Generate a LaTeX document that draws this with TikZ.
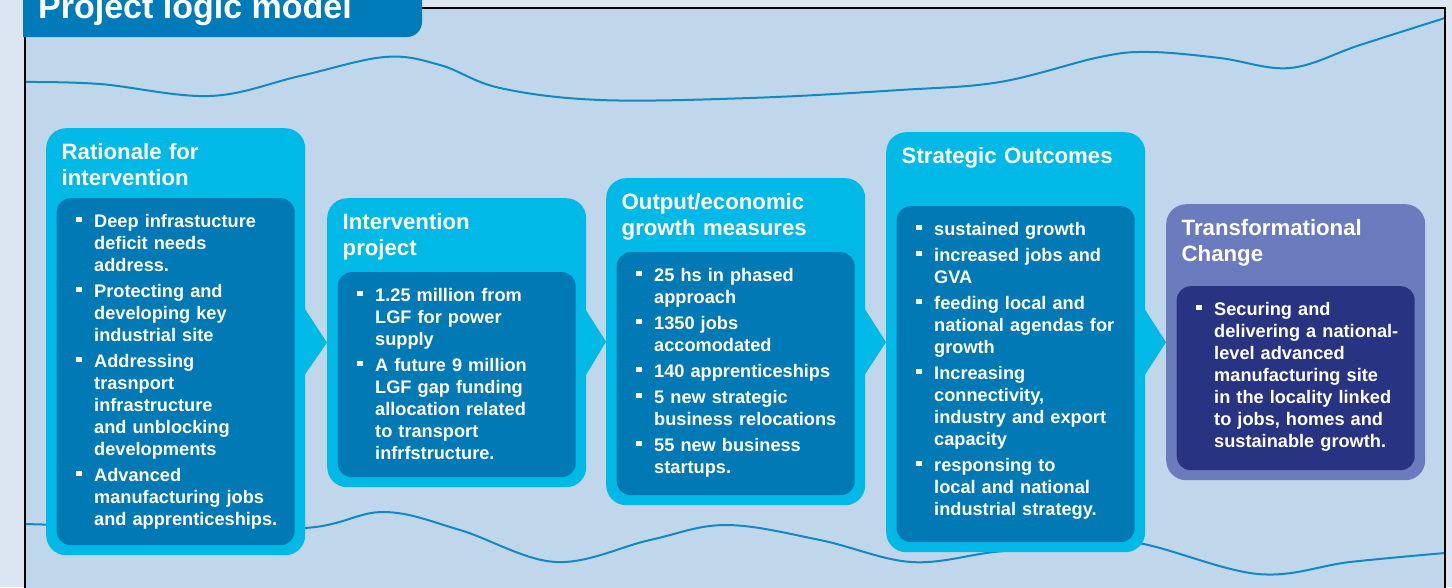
\documentclass[tikz,border=0pt]{standalone}
\usepackage{fontspec}
\setmainfont{Liberation Sans}
\usetikzlibrary{positioning}
\definecolor{pagebg}{HTML}{DCE6F2}
\definecolor{panelbg}{HTML}{C0D7EB}
\definecolor{wavecol}{HTML}{1089C6}
\definecolor{boxcyan}{HTML}{00B9E7}
\definecolor{boxblue}{HTML}{0079B4}
\definecolor{boxlilac}{HTML}{6A7BBE}
\definecolor{boxnavy}{HTML}{283482}
\definecolor{tabblue}{HTML}{007BBA}

% square bullet with hanging indent, one paragraph per item
\newcommand{\sqitem}[1]{\hangindent=18pt\hangafter=1\noindent\makebox[18pt][l]{\rule[5pt]{5.5pt}{5.5pt}}#1\par\setlength{\parskip}{4pt}}

\begin{document}
\begin{tikzpicture}[x=1pt, y=-1pt,
    outer/.style={fill=boxcyan, rounded corners=20pt, inner sep=0pt, minimum width=259pt, anchor=north west},
    inner/.style={fill=boxblue, rounded corners=14pt, inner sep=0pt, minimum width=238pt, anchor=south},
    head/.style={text=white, font=\fontsize{22.2}{26}\selectfont\bfseries, align=left, text width=240pt, inner sep=0pt, anchor=base west},
    list/.style={text=white, font=\fontsize{18.2}{22}\selectfont\bfseries, align=left, text width=250pt, inner sep=0pt, anchor=base west},
    pagetitle/.style={text=white, font=\fontsize{34}{38}\selectfont\bfseries, inner sep=0pt, anchor=base west},
    notch/.style={fill=boxcyan},
    wave/.style={draw=wavecol, line width=2pt}
]
    \clip (0,0) rectangle (1452,587);
    \fill[pagebg] (0,0) rectangle (1452,587);
    \fill[panelbg] (25,8) rectangle (1445,600);

    % wavy lines behind the boxes
    \draw[wave] plot[smooth, tension=0.6] coordinates {(25,82) (100,84) (210,96) (300,76) (385,57) (440,65) (500,88) (600,100) (750,98) (900,90) (1000,82) (1100,57) (1150,52) (1220,58) (1290,68) (1360,45) (1445,18)};
    \draw[wave] plot[smooth, tension=0.6] coordinates {(25,524) (150,527) (305,528) (384,512) (460,530) (556,562) (650,540) (726,525) (820,540) (911,562) (994,552) (1070,545) (1138,543) (1258,574) (1350,562) (1445,553)};

    % outer boxes
    \node[outer, minimum height=427pt] (rat) at (46,128) {};
    \node[outer, minimum height=289pt] (int) at (327,198) {};
    \node[outer, minimum height=327pt] (outp) at (606,178) {};
    \node[outer, minimum height=420pt] (strat) at (886,132) {};
    \node[outer, minimum height=276pt, fill=boxlilac] (trans) at (1166,204) {};

    % arrow notches
    \fill[notch] ([shift={(-2,-35)}]rat.east) -- (int.west) -- ([shift={(-2,35)}]rat.east) -- cycle;
    \fill[notch] ([shift={(-2,-35)}]int.east) -- (outp.west) -- ([shift={(-2,35)}]int.east) -- cycle;
    \fill[notch] ([shift={(-2,-35)}]outp.east) -- (strat.west) -- ([shift={(-2,35)}]outp.east) -- cycle;
    \fill[notch] ([shift={(-2,-35)}]strat.east) -- (trans.west) -- ([shift={(-2,35)}]strat.east) -- cycle;

    % inner boxes
    \node[inner, minimum height=347pt] (ratin) at ([yshift=10pt]rat.south) {};
    \node[inner, minimum height=205pt] (intin) at ([yshift=10pt]int.south) {};
    \node[inner, minimum height=243pt] (outpin) at ([yshift=10pt]outp.south) {};
    \node[inner, minimum height=336pt] (stratin) at ([yshift=10pt]strat.south) {};
    \node[inner, minimum height=184pt, fill=boxnavy] (transin) at ([yshift=10pt]trans.south) {};

    % headings
    \node[head] (rathead) at ([shift={(15.5,31)}]rat.north west) {Rationale for\\intervention};
    \node[head] (inthead) at ([shift={(15.5,31)}]int.north west) {Intervention\\project};
    \node[head] (outphead) at ([shift={(15.5,31)}]outp.north west) {Output/economic\\growth measures};
    \node[head] (strathead) at ([shift={(15.5,31)}]strat.north west) {Strategic Outcomes};
    \node[head] (transhead) at ([shift={(15.5,31)}]trans.north west) {Transformational\\Change};

    % bullet lists
    \node[list] (ratlist) at ([shift={(19.5,29)}]ratin.north west) {\sqitem{Deep infrastucture\newline deficit needs\newline address.}
        \sqitem{Protecting and\newline developing key\newline industrial site}
        \sqitem{Addressing\newline trasnport\newline infrastructure\newline and unblocking\newline developments}
        \sqitem{Advanced\newline manufacturing jobs\newline and apprenticeships.}};
    \node[list] (intlist) at ([shift={(19.5,29)}]intin.north west) {\sqitem{1.25 million from\newline LGF for power\newline supply}
        \sqitem{A future 9 million\newline LGF gap funding\newline allocation related\newline to transport\newline infrfstructure.}};
    \node[list] (outplist) at ([shift={(19.5,29)}]outpin.north west) {\sqitem{25 hs in phased\newline approach}
        \sqitem{1350 jobs\newline accomodated}
        \sqitem{140 apprenticeships}
        \sqitem{5 new strategic\newline business relocations}
        \sqitem{55 new business\newline startups.}};
    \node[list] (stratlist) at ([shift={(19.5,29)}]stratin.north west) {\sqitem{sustained growth}
        \sqitem{increased jobs and\newline GVA}
        \sqitem{feeding local and\newline national agendas for\newline growth}
        \sqitem{Increasing\newline connectivity,\newline industry and export\newline capacity}
        \sqitem{responsing to\newline local and national\newline industrial strategy.}};
    \node[list] (translist) at ([shift={(19.5,29)}]transin.north west) {\sqitem{Securing and\newline delivering a national-\newline level advanced\newline manufacturing site\newline in the locality linked\newline to jobs, homes and\newline sustainable growth.}};

    % frame and title tab
    \draw[black, line width=2.2pt] (25,600) -- (25,8) -- (1445,8) -- (1445,600);
    \fill[tabblue] (23,-10) -- (422,-10) -- (422,22) arc[start angle=0, end angle=-90, radius=15pt] -- (23,37) -- cycle;
    \node[pagetitle] (ttl) at (38,18) {Project logic model};
\end{tikzpicture}
\end{document}
